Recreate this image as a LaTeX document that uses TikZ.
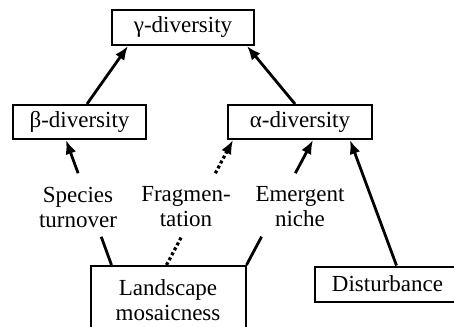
\documentclass[tikz,border=0pt]{standalone}
\usepackage{fontspec}
\setmainfont{Liberation Serif}
\newfontfamily\tms{Liberation Serif}
\usetikzlibrary{arrows.meta,calc}
\begin{document}
\begin{tikzpicture}[x=0.5pt,y=-0.5pt,
 txt/.style={font=\tms\fontsize{11.5}{12.5}\selectfont},
 box/.style={draw,line width=1pt,inner sep=0pt,align=center,txt},
 lbl/.style={inner sep=0pt,align=center,txt},
 tip/.style={-{Latex[length=7pt,width=5.5pt]}},
 conn/.style={line width=1.4pt},
 arr/.style={conn,tip},
 dotline/.style={line width=1.6pt,dash pattern=on 1.5pt off 1.3pt}]
\useasboundingbox (0,0) rectangle (454,326);
\clip (0,0) rectangle (454,326);
\node[box,minimum width=71pt,minimum height=17.5pt] (g) at (183,27.5) {γ-diversity};
\node[box,minimum width=66.5pt,minimum height=17pt] (b) at (79.5,122) {β-diversity};
\node[box,minimum width=72pt,minimum height=17pt] (a) at (300,122) {α-diversity};
\node[box,minimum width=77.5pt,minimum height=34pt] (land) at (168,300) {Landscape\\mosaicness};
\node[box,minimum width=73pt,minimum height=17.5pt] (dist) at (387.5,284) {Disturbance};
\node[lbl] (lspec) at (78,207) {Species\\turnover};
\node[lbl] (lfrag) at (186,207) {Fragmen-\\tation};
\node[lbl] (lemer) at (300,207) {Emergent\\niche};
% anchor points
\coordinate (b0) at ($(b.north west)+(75,0)$);
\coordinate (g1) at ($(g.south west)+(17,0)$);
\coordinate (a0) at ($(a.north west)+(68,0)$);
\coordinate (g2) at ($(g.south west)+(136,0)$);
\coordinate (s0) at ($(land.north west)+(22,0)$);
\coordinate (s1) at ($(b.south west)+(54,0)$);
\coordinate (f0) at ($(land.north west)+(77,0)$);
\coordinate (f1) at ($(a.south west)+(6,0)$);
\coordinate (e0) at (land.north east);
\coordinate (e1) at ($(a.south west)+(86,0)$);
\coordinate (d0) at ($(dist.north west)+(83,0)$);
\coordinate (d1) at ($(a.south west)+(123,0)$);
% connectors
\draw[arr] (b0) -- (g1);
\draw[arr] (a0) -- (g2);
\draw[conn] (s0) -- ($(s0)!0.226!(s1)$);
\draw[arr] ($(s0)!0.734!(s1)$) -- (s1);
\draw[dotline] (f0) -- ($(f0)!0.226!(f1)$);
\draw[dotline,tip] ($(f0)!0.734!(f1)$) -- (f1);
\draw[conn] (e0) -- ($(e0)!0.226!(e1)$);
\draw[arr] ($(e0)!0.734!(e1)$) -- (e1);
\draw[arr] (d0) -- (d1);
\end{tikzpicture}
\end{document}
